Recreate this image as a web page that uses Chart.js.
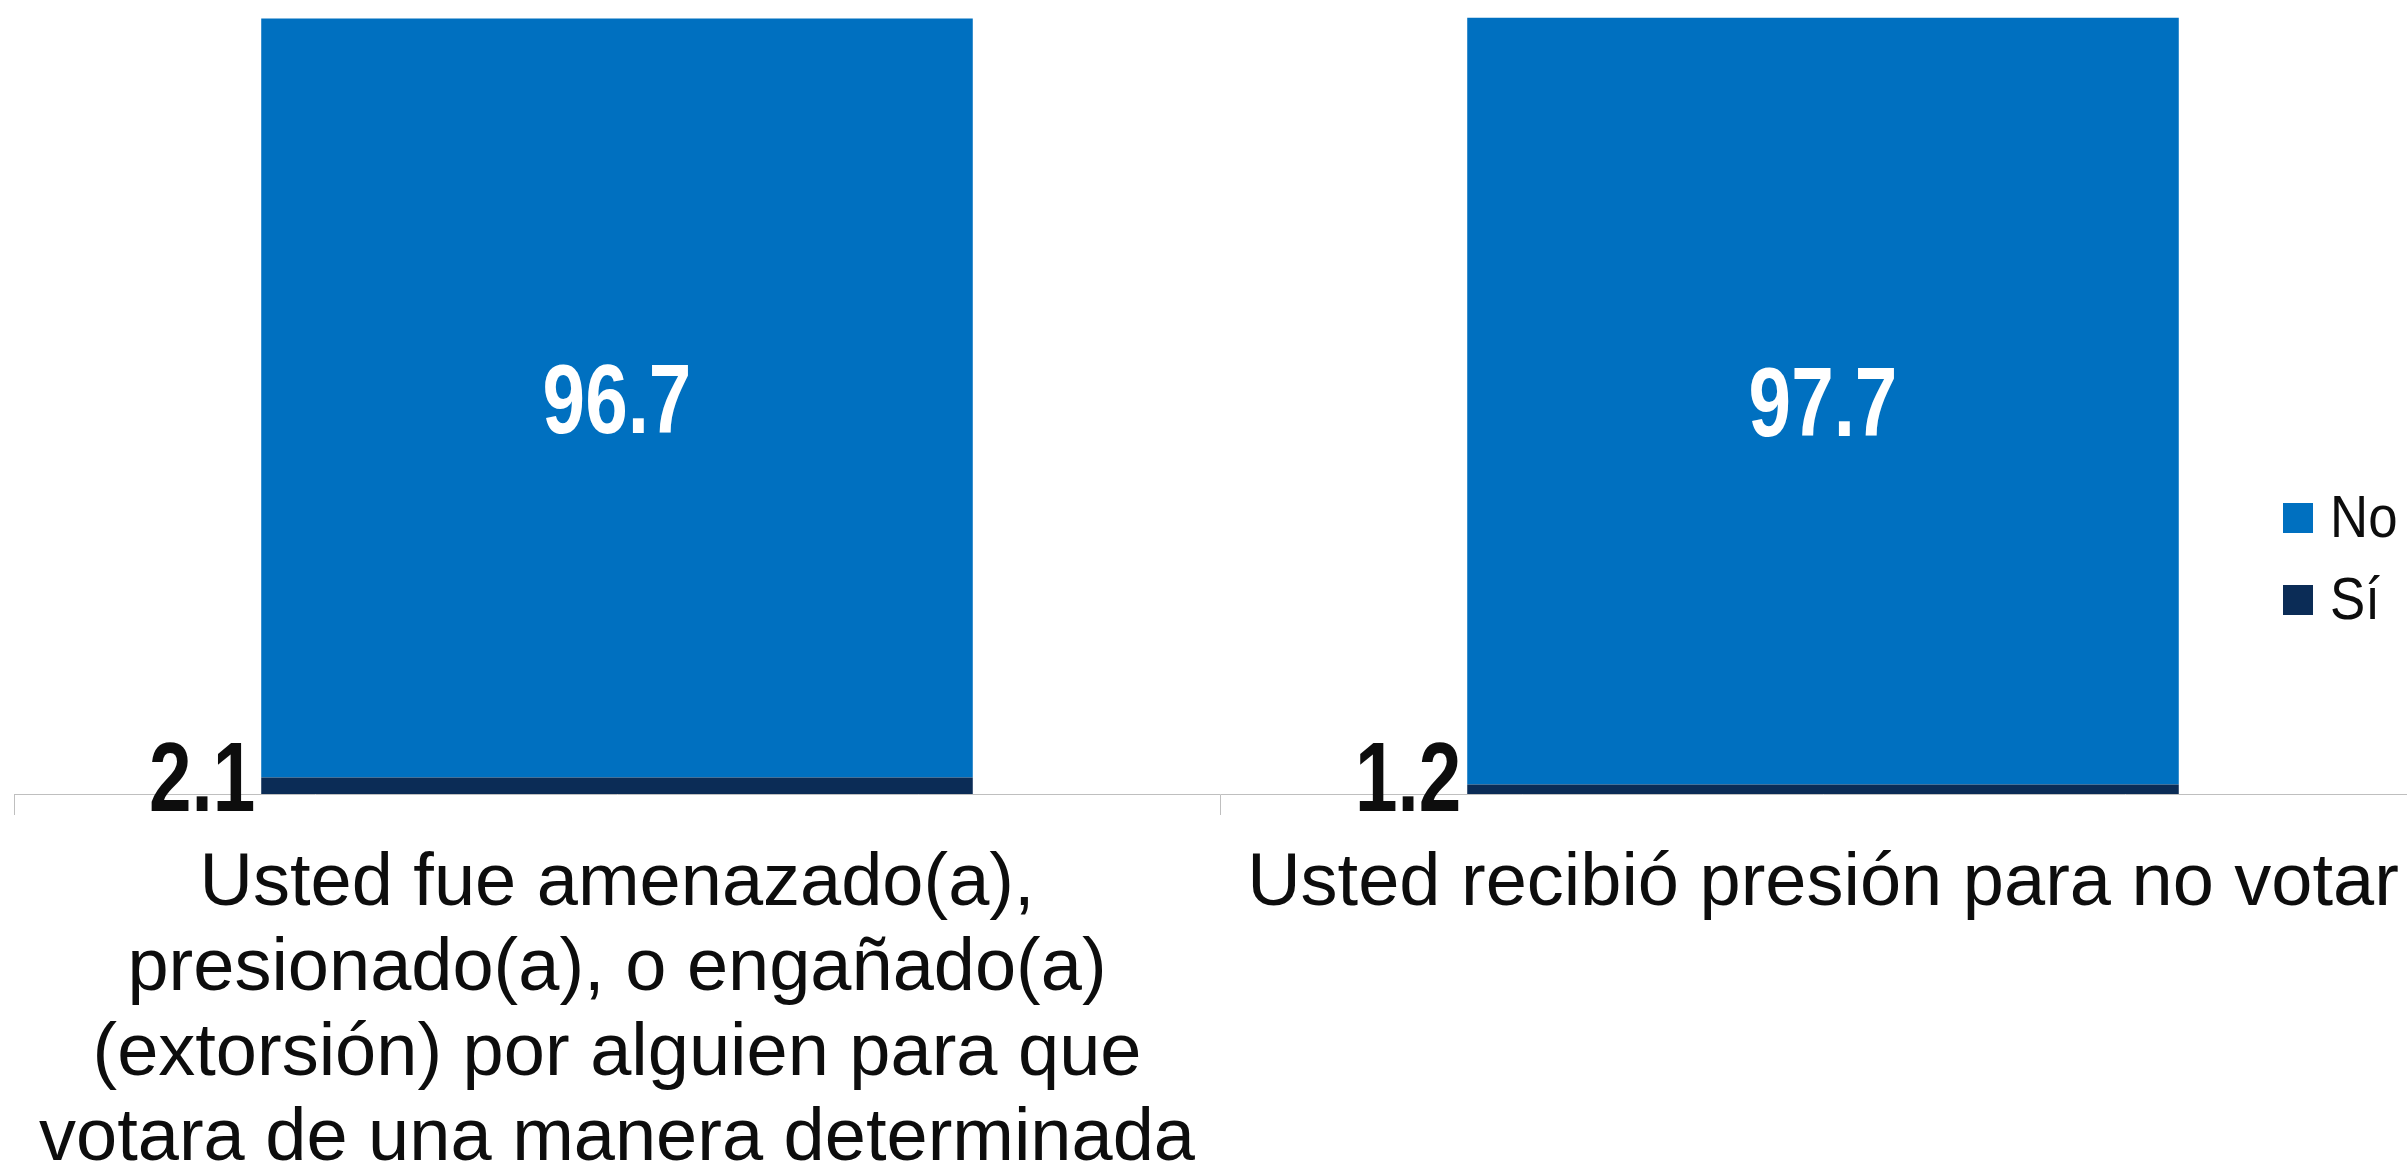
<!DOCTYPE html>
<html>
<head>
<meta charset="utf-8">
<script src="https://cdn.jsdelivr.net/npm/chart.js@4"></script>
<style>
  html, body { margin: 0; padding: 0; background: #ffffff; overflow: hidden; width: 2407px; height: 1171px; }
  #wrap { position: absolute; left: 0; top: 0; width: 2430px; height: 1209px; }
</style>
</head>
<body>
<div id="wrap"><canvas id="c" width="2430" height="1209"></canvas></div>
<script>
const categories = [
  ["Usted fue amenazado(a),", "presionado(a), o engañado(a)", "(extorsión) por alguien para que", "votara de una manera determinada"],
  "Usted recibió presión para no votar"
];
const seriesNames = ["Sí", "No"];
const siValues = [2.1, 1.2];
const noValues = [96.7, 97.7];
const seriesColors = ["#0B2C56", "#0070C0"];

const valueLabels = {
  id: 'valueLabels',
  afterDatasetsDraw(chart) {
    const ctx = chart.ctx;
    ctx.save();
    const sx = 0.78;
    ctx.font = 'bold 98px "Liberation Sans", Arial, sans-serif';
    ctx.textBaseline = 'middle';
    const noMeta = chart.getDatasetMeta(1);
    noMeta.data.forEach((bar, i) => {
      const t = noValues[i].toFixed(1);
      const y = (bar.y + bar.base) / 2 + 8;
      ctx.save();
      ctx.translate(bar.x, y);
      ctx.scale(sx, 1);
      ctx.textAlign = 'center';
      ctx.fillStyle = '#FFFFFF';
      ctx.fillText(t, 0, 0);
      ctx.restore();
    });
    const siMeta = chart.getDatasetMeta(0);
    siMeta.data.forEach((bar, i) => {
      const t = siValues[i].toFixed(1);
      const left = bar.x - bar.width / 2 - 6;
      const y = bar.base - 10;
      ctx.save();
      ctx.translate(left, y);
      ctx.scale(sx, 1);
      ctx.textAlign = 'right';
      ctx.fillStyle = '#0D0D0D';
      ctx.fillText(t, 0, 0);
      ctx.restore();
    });
    ctx.restore();
  }
};

const customLegend = {
  id: 'customLegend',
  afterDraw(chart) {
    const ctx = chart.ctx;
    ctx.save();
    const items = chart.data.datasets.map((d, i) => ({ label: d.label, color: d.backgroundColor })).reverse();
    const x0 = 2283, size = 30, y0 = 518, step = 82;
    ctx.font = '60px "Liberation Sans", Arial, sans-serif';
    ctx.textBaseline = 'middle';
    ctx.textAlign = 'left';
    items.forEach((it, k) => {
      const cy = y0 + k * step;
      ctx.fillStyle = it.color;
      ctx.fillRect(x0, cy - size / 2, size, size);
      ctx.save();
      ctx.translate(x0 + 47, cy + 2);
      ctx.scale(0.88, 1);
      ctx.fillStyle = '#0D0D0D';
      ctx.fillText(it.label, 0, 0);
      ctx.restore();
    });
    ctx.restore();
  }
};

new Chart(document.getElementById('c'), {
  type: 'bar',
  data: {
    labels: categories,
    datasets: [
      { label: seriesNames[0], data: siValues, backgroundColor: seriesColors[0], borderWidth: 0 },
      { label: seriesNames[1], data: noValues, backgroundColor: seriesColors[1], borderWidth: 0 }
    ]
  },
  options: {
    responsive: false,
    devicePixelRatio: 1,
    animation: false,
    layout: { padding: { left: 14, right: 4, top: 9, bottom: 0 } },
    datasets: { bar: { categoryPercentage: 1.0, barPercentage: 0.59 } },
    plugins: {
      legend: { display: false },
      tooltip: { enabled: false }
    },
    scales: {
      x: {
        stacked: true,
        grid: { display: true, drawOnChartArea: false, drawTicks: true, tickLength: 21, color: '#BFBFBF', lineWidth: 1, offset: true },
        border: { display: true, color: '#BFBFBF', width: 1 },
        ticks: {
          color: '#0D0D0D',
          padding: 27,
          maxRotation: 0,
          autoSkip: false,
          font: { family: '"Liberation Sans", Arial, sans-serif', size: 74, lineHeight: 1.1486 }
        }
      },
      y: {
        stacked: true,
        display: false,
        min: 0,
        max: 100
      }
    }
  },
  plugins: [valueLabels, customLegend]
});
</script>
</body>
</html>
